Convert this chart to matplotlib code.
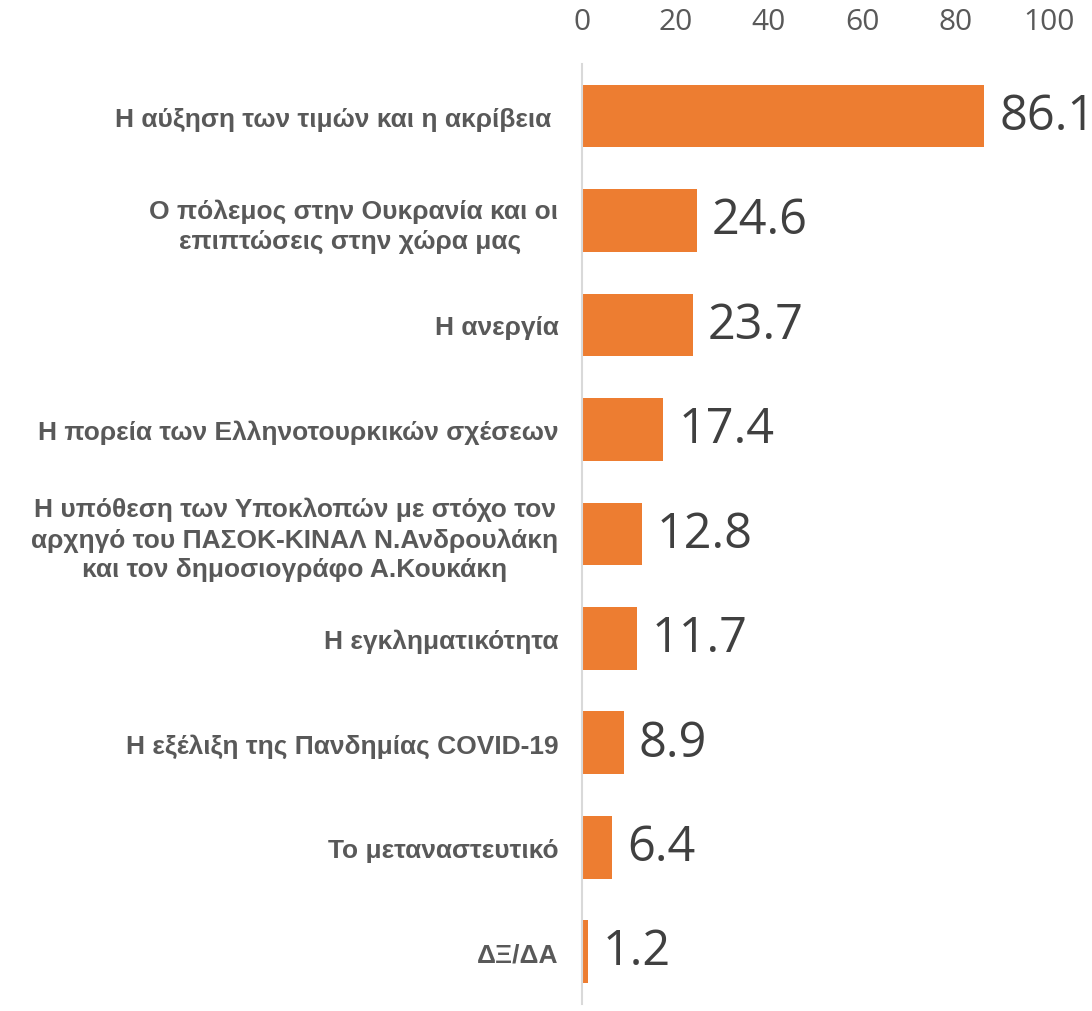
import matplotlib.pyplot as plt

categories = [
    "Η αύξηση των τιμών και η ακρίβεια ",
    "Ο πόλεμος στην Ουκρανία και οι\nεπιπτώσεις στην χώρα μας ",
    "Η ανεργία",
    "Η πορεία των Ελληνοτουρκικών σχέσεων",
    "Η υπόθεση των Υποκλοπών με στόχο τον\nαρχηγό του ΠΑΣΟΚ-ΚΙΝΑΛ Ν.Ανδρουλάκη\nκαι τον δημοσιογράφο Α.Κουκάκη",
    "Η εγκληματικότητα",
    "Η εξέλιξη της Πανδημίας COVID-19",
    "Το μεταναστευτικό",
    "ΔΞ/ΔΑ",
]
values = [86.1, 24.6, 23.7, 17.4, 12.8, 11.7, 8.9, 6.4, 1.2]
xticks = [0, 20, 40, 60, 80, 100]

fig = plt.figure(figsize=(10.92, 10.12), dpi=100)
ax = fig.add_axes([0.533, 0.007, 0.4276, 0.929])

pos = list(range(len(values)))
ax.barh(pos, values, height=0.6, color="#ED7D31")
ax.set_ylim(len(values) - 0.5, -0.5)
ax.set_xlim(0, 100)

# value labels
for y, v in zip(pos, values):
    ax.text(v + 3.2, y, f"{v:.1f}", va="center", ha="left",
            fontsize=35, color="#404040", family="Open Sans")

ax.set_yticks(pos)
ax.set_yticklabels(categories, fontsize=19, fontweight="bold",
                   color="#595959", family="Liberation Sans",
                   multialignment="center", linespacing=1.3)
ax.tick_params(axis="y", length=0, pad=17)

ax.xaxis.tick_top()
ax.set_xticks(xticks)
ax.set_xticklabels([str(t) for t in xticks], fontsize=21.5,
                   color="#595959", family="Open Sans")
ax.tick_params(axis="x", length=0, pad=20)

for s in ["top", "right", "bottom"]:
    ax.spines[s].set_visible(False)
ax.spines["left"].set_color("#D9D9D9")
ax.spines["left"].set_linewidth(1.5)

fig.savefig("out.png", dpi=100)
